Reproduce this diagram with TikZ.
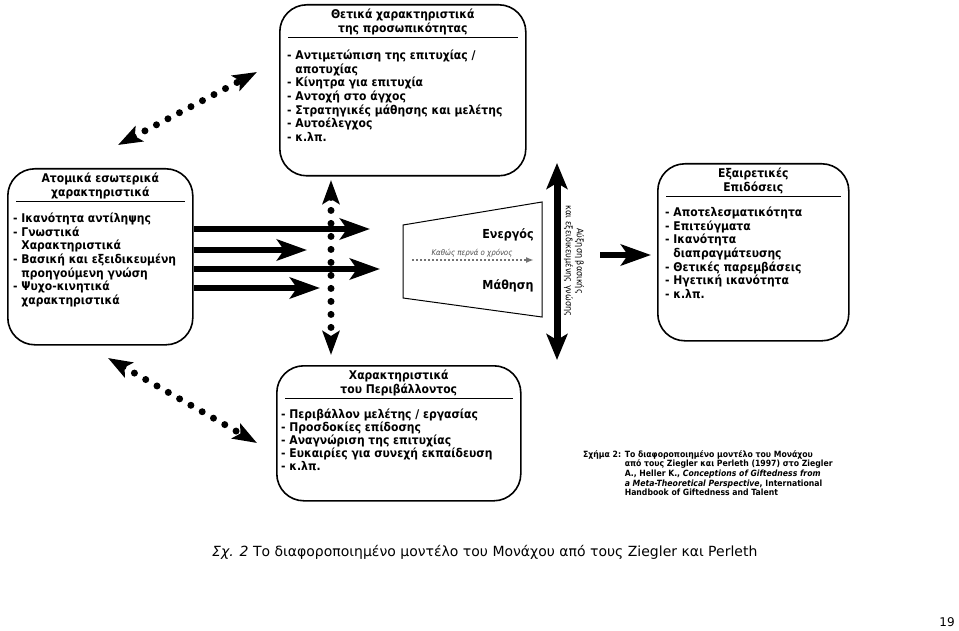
\documentclass[tikz,border=0pt]{standalone}
\usepackage{fontspec}
\setmainfont{DejaVu Sans}[FakeStretch=0.9]
\newfontfamily\capfont{DejaVu Sans}
\usetikzlibrary{positioning,arrows.meta}

\newcommand{\cnt}{\phantom{- }}

\tikzset{
  box/.style={draw, line width=1.6pt, rounded corners=27pt, anchor=north west, inner sep=0pt},
  boxtitle/.style={font=\bfseries\fontsize{12}{14}\selectfont, align=center, anchor=north, inner sep=0pt},
  boxtext/.style={font=\bfseries\fontsize{12}{13.6}\selectfont, align=left, anchor=north west, inner sep=0pt},
  rulebar/.style={line width=1.1pt},
  fatarrow/.style={line width=6.5pt, -{Stealth[length=30pt,width=21pt,inset=7pt]}},
  dotarrow/.style={line width=7pt, line cap=round, dash pattern=on 0pt off 13pt,
    {Stealth[length=24pt,width=17pt,inset=5pt]}-{Stealth[length=24pt,width=17pt,inset=5pt]}},
}

\begin{document}
\begin{tikzpicture}[x=1pt,y=-1pt]
\useasboundingbox (0,0) rectangle (959,631);

% boxes
\node[box, minimum width=246pt, minimum height=171pt] (pos) at (279,4) {};
\node[box, minimum width=185pt, minimum height=176pt] (atom) at (7,168) {};
\node[box, minimum width=191pt, minimum height=177pt] (epid) at (657,163) {};
\node[box, minimum width=244pt, minimum height=135pt] (perib) at (276,365) {};

% titles
\node[boxtitle, below=5pt of pos.north] (postitle) {Θετικά χαρακτηριστικά\\της προσωπικότητας};
\node[boxtitle, below=5pt of atom.north] (atomtitle) {Ατομικά εσωτερικά\\χαρακτηριστικά};
\node[boxtitle, below=5pt of epid.north] (epidtitle) {Εξαιρετικές\\Επιδόσεις};
\node[boxtitle, below=5pt of perib.north] (peribtitle) {Χαρακτηριστικά\\του Περιβάλλοντος};

\draw[rulebar] ([xshift=9pt,yshift=-2pt]postitle.south -| pos.west) -- ([xshift=-9pt,yshift=-2pt]postitle.south -| pos.east);
\draw[rulebar] ([xshift=9pt,yshift=-2pt]atomtitle.south -| atom.west) -- ([xshift=-9pt,yshift=-2pt]atomtitle.south -| atom.east);
\draw[rulebar] ([xshift=9pt,yshift=-2pt]epidtitle.south -| epid.west) -- ([xshift=-9pt,yshift=-2pt]epidtitle.south -| epid.east);
\draw[rulebar] ([xshift=9pt,yshift=-2pt]peribtitle.south -| perib.west) -- ([xshift=-9pt,yshift=-2pt]peribtitle.south -| perib.east);

% items
\node[boxtext] (positems) at (287,50) {- Αντιμετώπιση της επιτυχίας /\\\cnt αποτυχίας\\- Κίνητρα για επιτυχία\\- Αντοχή στο άγχος\\- Στρατηγικές μάθησης και μελέτης\\- Αυτοέλεγχος\\- κ.λπ.};
\node[boxtext] (atomitems) at (13,213) {- Ικανότητα αντίληψης\\- Γνωστικά\\\cnt Χαρακτηριστικά\\- Βασική και εξειδικευμένη\\\cnt προηγούμενη γνώση\\- Ψυχο-κινητικά\\\cnt χαρακτηριστικά};
\node[boxtext] (epiditems) at (665,207) {- Αποτελεσματικότητα\\- Επιτεύγματα\\- Ικανότητα\\\cnt διαπραγμάτευσης\\- Θετικές παρεμβάσεις\\- Ηγετική ικανότητα\\- κ.λπ.};
\node[boxtext, font=\bfseries\fontsize{12}{13}\selectfont] (peribitems) at (281,409) {- Περιβάλλον μελέτης / εργασίας\\- Προσδοκίες επίδοσης\\- Αναγνώριση της επιτυχίας\\- Ευκαιρίες για συνεχή εκπαίδευση\\- κ.λπ.};

% learning
\draw[line width=1pt] (403,225) -- (542,202) -- (542,317) -- (403,298) -- cycle;
\node[font=\bfseries\fontsize{12.4}{14}\selectfont] (active) at (508,235) {Ενεργός};
\node[font=\bfseries\fontsize{12.4}{14}\selectfont] (learn) at (508,286) {Μάθηση};
\node[font=\itshape\fontsize{7.8}{9}\selectfont, text=black!70] (time) at (472,253) {Καθώς περνά ο χρόνος};
\coordinate (ts) at (412,260);
\coordinate (te) at (534,260);
\draw[black!55, line width=2pt, dash pattern=on 2pt off 2pt, -{Latex[length=8pt,width=6pt]}] (ts) -- (te);

% growth
\coordinate (kt) at (557,163);
\coordinate (kb) at (557,360);
\draw[line width=7pt, {Stealth[length=26pt,width=21pt,inset=6pt]}-{Stealth[length=26pt,width=21pt,inset=6pt]}] (kt) -- (kb);
\node[rotate=-90, align=center, font=\fontsize{9}{11}\selectfont] (grow) at (574,261) {Αύξηση βασικής\\και εξειδικευμένης γνώσης};

% arrows
\coordinate (a1) at (370,229);
\coordinate (a2) at (307,250);
\coordinate (a3) at (380,269);
\coordinate (a4) at (320,288);
\foreach \e in {a1,a2,a3,a4}
  \draw[fatarrow] (\e -| atom.east) -- (\e);
\coordinate (out) at (600,255);
\draw[fatarrow] (out) -- ([xshift=-6pt]out -| epid.west);

\coordinate (dt) at (331,180);
\coordinate (db) at (331,355);
\draw[dotarrow] (dt) -- (db);
\coordinate (u1) at (118,145);
\coordinate (u2) at (257,72);
\draw[dotarrow] (u1) -- (u2);
\coordinate (l1) at (108,358);
\coordinate (l2) at (257,443);
\draw[dotarrow] (l1) -- (l2);

% source
\node[anchor=north west, inner sep=0pt, font=\bfseries\fontsize{8.6}{9.6}\selectfont] (src) at (583,450)
  {\begin{tabular}{@{}l@{ }l@{}}
  Σχήμα 2: & Το διαφοροποιημένο μοντέλο του Μονάχου\\
  & από τους Ziegler και Perleth (1997) στο Ziegler\\
  & A., Heller K., \textit{Conceptions of Giftedness from}\\
  & \textit{a Meta-Theoretical Perspective}, International\\
  & Handbook of Giftedness and Talent
  \end{tabular}};

% caption
\node[anchor=west, inner sep=0pt, font=\capfont\fontsize{14}{16}\selectfont] (cap) at (212,552)
  {\textit{Σχ. 2} Το διαφοροποιημένο μοντέλο του Μονάχου από τους Ziegler και Perleth};
\node[font=\capfont\fontsize{12}{14}\selectfont] (page) at (947,622) {19};
\end{tikzpicture}
\end{document}
